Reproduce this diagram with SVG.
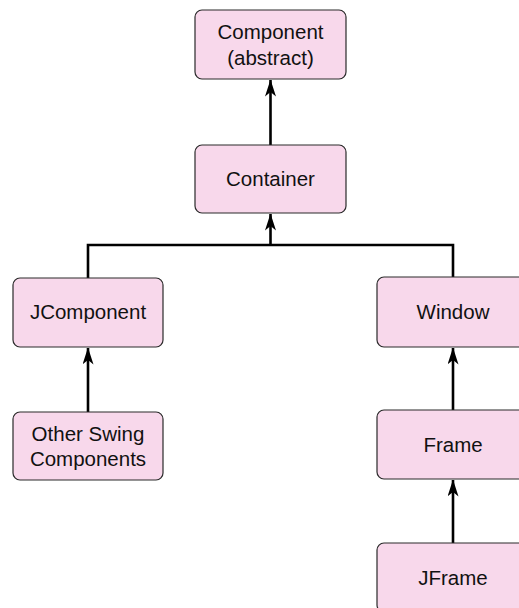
<svg xmlns="http://www.w3.org/2000/svg" width="519" height="608" viewBox="0 0 519 608">
<style>
.box{fill:#f8d8eb;stroke:#2a2a2a;stroke-width:1.2}
.lbl{font-family:"Liberation Sans",Arial,sans-serif;font-size:20.5px;fill:#111;text-anchor:middle}
.conn{fill:none;stroke:#000;stroke-width:2.6}
</style>
<defs>
<marker id="ah" viewBox="0 0 17 11" refX="16.5" refY="5.5" markerWidth="17" markerHeight="11" markerUnits="userSpaceOnUse" orient="auto">
<path d="M0,0 L17,5.5 L0,11 L4.5,5.5 Z" fill="#000"/>
</marker>
</defs>
<rect width="519" height="608" fill="#fff"/>
<g id="connectors">
<line class="conn" x1="270.5" y1="145" x2="270.5" y2="80" marker-end="url(#ah)"/>
<polyline class="conn" points="88,278 88,245 453,245 453,277"/>
<line class="conn" x1="270.5" y1="245" x2="270.5" y2="214" marker-end="url(#ah)"/>
<line class="conn" x1="88" y1="412" x2="88" y2="348" marker-end="url(#ah)"/>
<line class="conn" x1="453" y1="410" x2="453" y2="348" marker-end="url(#ah)"/>
<line class="conn" x1="453" y1="543" x2="453" y2="480" marker-end="url(#ah)"/>
</g>
<g id="component">
<rect class="box" x="195" y="10" width="151" height="69" rx="7"/>
<text class="lbl" x="270.5" y="39">Component</text>
<text class="lbl" x="270.5" y="65">(abstract)</text>
</g>
<g id="container">
<rect class="box" x="195" y="145" width="151" height="68" rx="7"/>
<text class="lbl" x="270.5" y="186">Container</text>
</g>
<g id="jcomponent">
<rect class="box" x="13" y="278" width="150" height="69" rx="7"/>
<text class="lbl" x="88" y="319">JComponent</text>
</g>
<g id="other-swing">
<rect class="box" x="13" y="412" width="150" height="68" rx="7"/>
<text class="lbl" x="88" y="441">Other Swing</text>
<text class="lbl" x="88" y="466">Components</text>
</g>
<g id="window">
<rect class="box" x="377" y="277" width="151" height="70" rx="7"/>
<text class="lbl" x="453" y="319">Window</text>
</g>
<g id="frame">
<rect class="box" x="377" y="410" width="151" height="69" rx="7"/>
<text class="lbl" x="453" y="452">Frame</text>
</g>
<g id="jframe">
<rect class="box" x="377" y="543" width="151" height="69" rx="7"/>
<text class="lbl" x="453" y="585">JFrame</text>
</g>
</svg>
